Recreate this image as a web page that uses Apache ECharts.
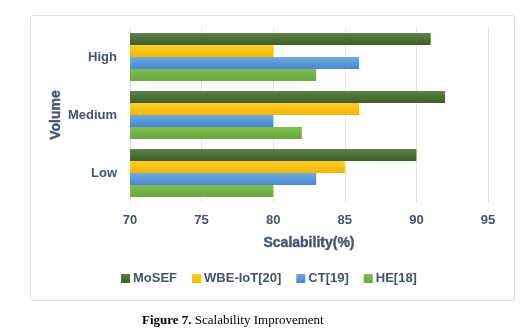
<!DOCTYPE html>
<html>
<head>
<meta charset="utf-8">
<script src="https://cdn.jsdelivr.net/npm/echarts@6/dist/echarts.min.js"></script>
<style>
html,body{margin:0;padding:0;background:#fff;}
#c{width:520px;height:329px;}
</style>
</head>
<body>
<div id="c"></div>
<script>
const categories = ['Low', 'Medium', 'High'];
const seriesNames = ['MoSEF', 'WBE-IoT[20]', 'CT[19]', 'HE[18]'];
const mosef = [90, 92, 91];
const wbeIot = [85, 86, 80];
const ct = [83, 80, 86];
const he = [80, 82, 83];
const xTicks = [70, 75, 80, 85, 90, 95];

const colors = [
  ['#5e7f4b', '#3b6122'],
  ['#ffcd2e', '#f2b600'],
  ['#6fa9df', '#4788cf'],
  ['#80bd55', '#68a83d']
];
const legendColors = ['#4a6b34', '#ffc000', '#5b9bd5', '#70ad47'];
const values = [mosef, wbeIot, ct, he];
const txt = '#44546a';
const font = '"Liberation Sans", Arial, sans-serif';

const chart = echarts.init(document.getElementById('c'), null, {renderer: 'canvas'});
chart.setOption({
  animation: false,
  backgroundColor: '#fff',
  color: legendColors,
  grid: {left: 130, right: 32, top: 28, bottom: 127, containLabel: false},
  xAxis: {
    type: 'value', min: xTicks[0], max: xTicks[xTicks.length - 1], interval: 5,
    axisLine: {show: false}, axisTick: {show: false},
    splitLine: {lineStyle: {color: '#dfe3e8', width: 1}},
    axisLabel: {color: txt, fontWeight: 'bold', fontSize: 13, fontFamily: font, margin: 12},
    name: 'Scalability(%)', nameLocation: 'middle', nameGap: 34,
    nameTextStyle: {color: txt, fontWeight: 'bold', fontSize: 14, fontFamily: font, textBorderColor: txt, textBorderWidth: 0.4}
  },
  yAxis: {
    type: 'category', data: categories,
    axisLine: {show: false}, axisTick: {show: false},
    axisLabel: {color: txt, fontWeight: 'bold', fontSize: 13, fontFamily: font, margin: 13},
    name: 'Volume', nameLocation: 'middle', nameGap: 67, nameRotate: 90, nameMoveOverlap: false,
    nameTextStyle: {color: txt, fontWeight: 'bold', fontSize: 14, fontFamily: font, textBorderColor: txt, textBorderWidth: 0.4}
  },
  legend: {
    left: 116, top: 267, itemWidth: 9, itemHeight: 9, itemGap: 15, icon: 'rect',
    textStyle: {color: txt, fontWeight: 'bold', fontSize: 13, fontFamily: font, padding: [0, 0, 0, -2]},
    data: seriesNames
  },
  series: seriesNames.map((n, i) => ({
    name: n, type: 'bar', data: values[i],
    barGap: '0%', barCategoryGap: '17%',
    itemStyle: {
      color: new echarts.graphic.LinearGradient(0, 0, 0, 1, [
        {offset: 0, color: colors[i][0]}, {offset: 1, color: colors[i][1]}
      ])
    }
  })),
  graphic: [
    {type: 'rect', left: 28, top: 13, shape: {width: 484, height: 285, r: 2},
     style: {fill: 'none', stroke: '#dcdfe3', lineWidth: 1}, silent: true, z: -1},
    {type: 'text', left: 142, top: 314,
     style: {text: '{b|Figure 7.} Scalability Improvement', fill: '#000',
       font: '13px "Liberation Serif", "Times New Roman", serif',
       rich: {b: {fontWeight: 'bold', fontFamily: '"Liberation Serif", serif', fontSize: 13, fill: '#000'}}}}
  ]
});
</script>
</body>
</html>
